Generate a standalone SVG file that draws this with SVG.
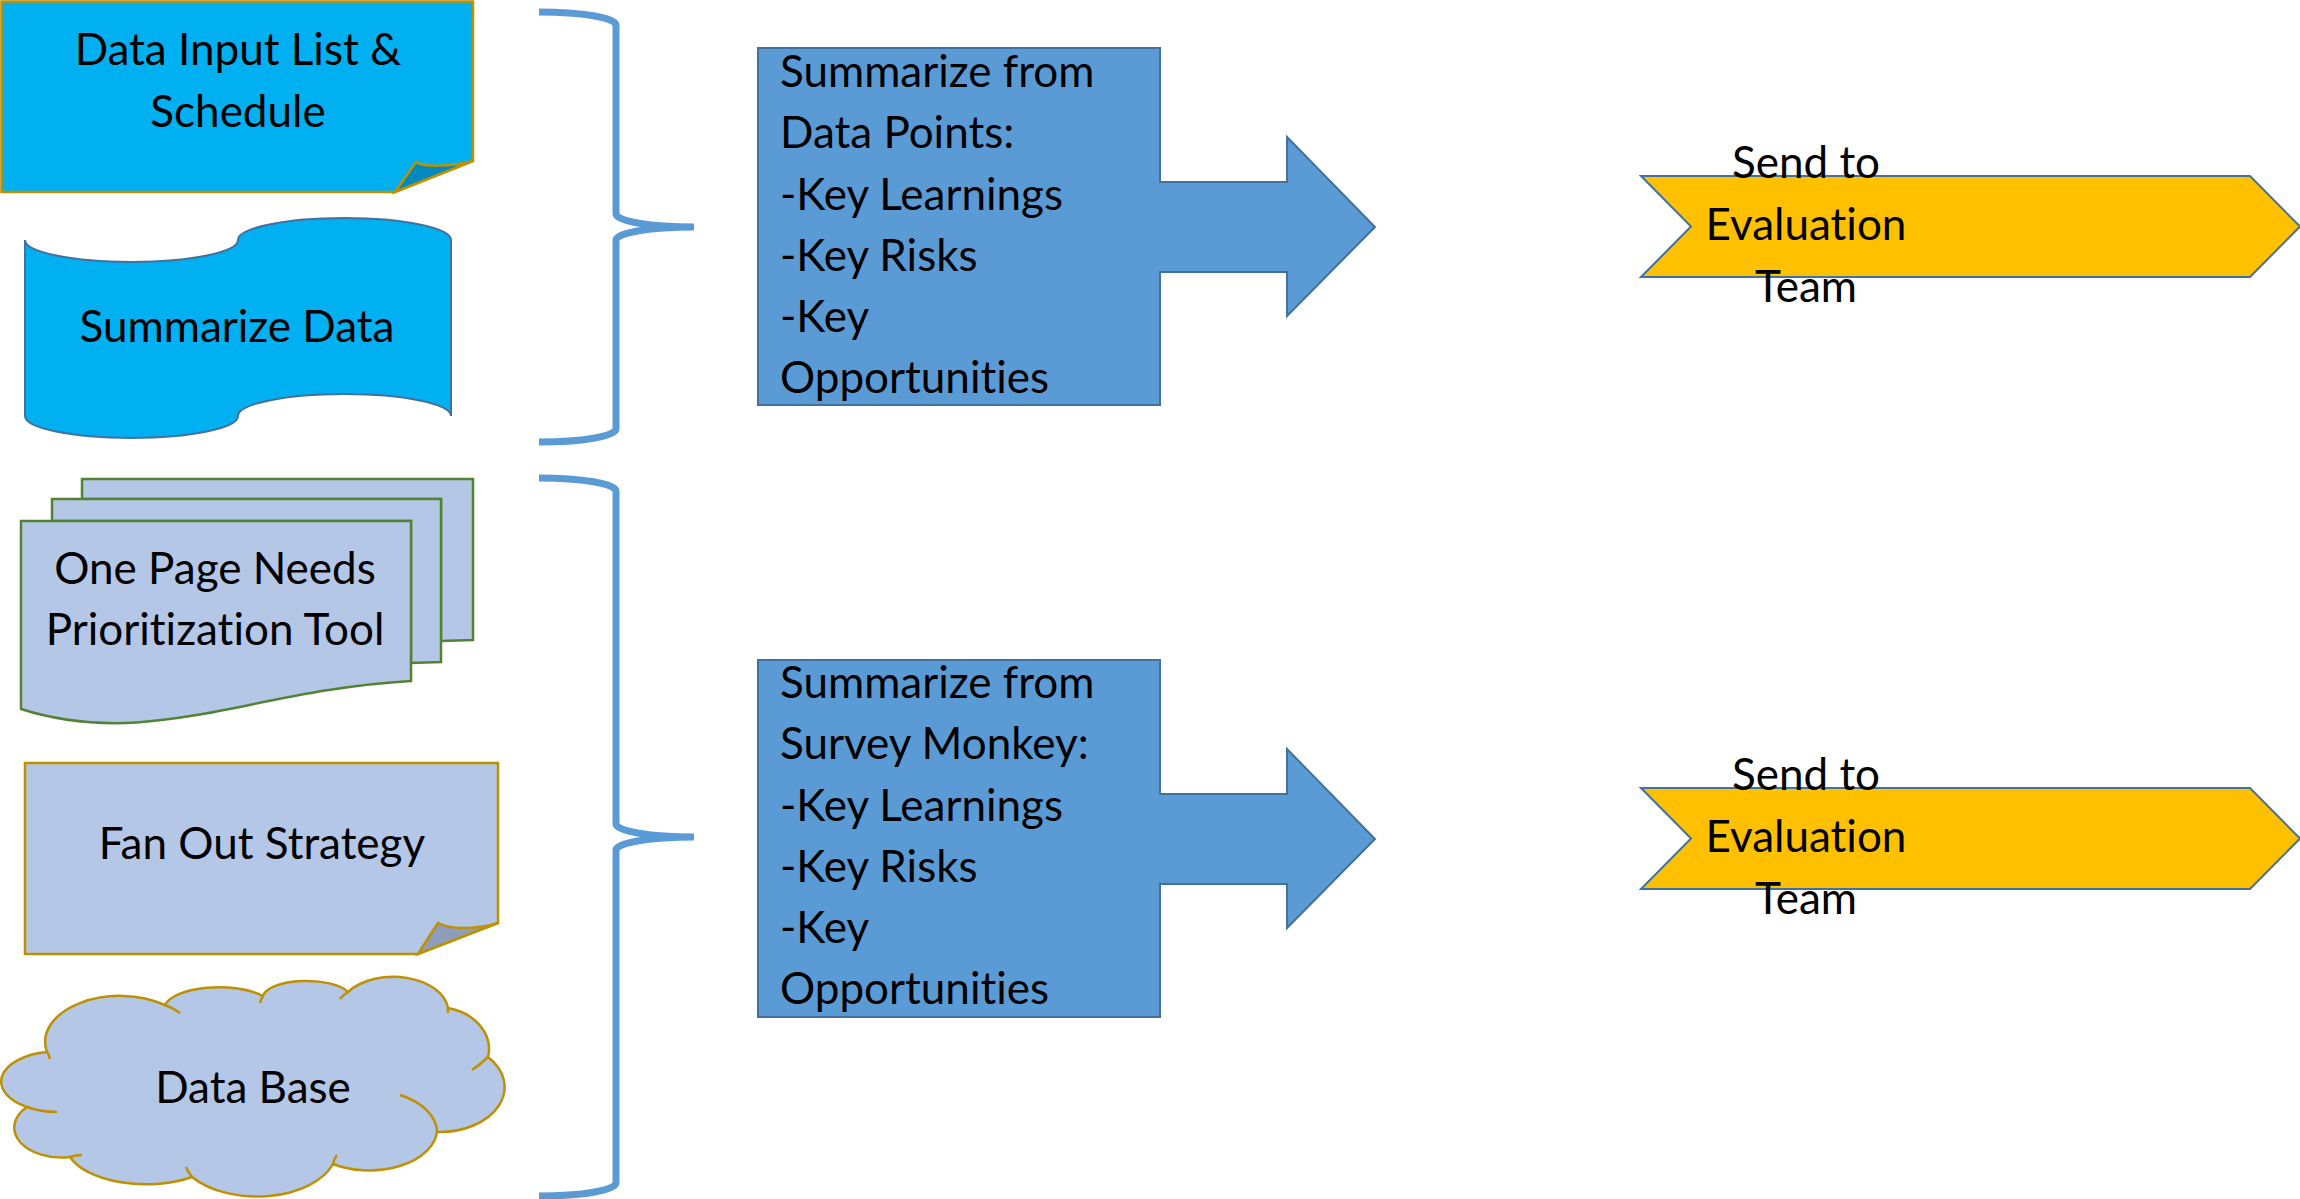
<svg xmlns="http://www.w3.org/2000/svg" width="2300" height="1199" viewBox="0 0 2300 1199">
<style>
text{font-family:Lato,"Liberation Sans",sans-serif;font-size:44px;fill:#000;font-variant-ligatures:none;font-feature-settings:"liga" 0}
.c{text-anchor:middle}
.gold{stroke:#BF9000;stroke-width:2.5;stroke-linejoin:miter}
.blueline{stroke:#41719C;stroke-width:2}
.brace{fill:none;stroke:#5B9BD5;stroke-width:7}
.lb{fill:#B4C7E7}
.cy{fill:#00B0F0}
.call{fill:#5B9BD5;stroke:#41719C;stroke-width:2}
.chev{fill:#FFC000;stroke:#41719C;stroke-width:2}
</style>
<rect width="2300" height="1199" fill="#fff"/>
<g id="data-input">
<path class="cy gold" d="M1.5,1.5 H473 V161 L395,192 H1.5 Z"/>
<path class="gold" fill="#0089BD" d="M395,192 L416,162 C422,167 450,167 473,161 Z"/>
<text class="c" x="238" y="65">Data Input List &amp;</text>
<text class="c" x="238" y="127">Schedule</text>
</g>
<g id="summarize-data">
<path class="cy blueline" d="M25,240 A106.5,22 0 0 0 238,240 A106.5,22 0 0 1 451,240 L451,416 A106.5,22 0 0 0 238,416 A106.5,22 0 0 1 25,416 Z"/>
<text class="c" x="237" y="342">Summarize Data</text>
</g>
<g id="one-page-tool">
<path class="lb" stroke="#548235" stroke-width="2.5" d="M82,499 V479 H473 V640 L441,641 V499 Z"/>
<path class="lb" stroke="#548235" stroke-width="2.5" d="M52,521 V499 H441 V662 L411,663 V521 Z"/>
<path class="lb" stroke="#548235" stroke-width="2.5" d="M21,521 H411 V681 C250,690 150,750 21,709 Z"/>
<text class="c" x="215" y="584">One Page Needs</text>
<text class="c" x="215" y="645">Prioritization Tool</text>
</g>
<g id="fan-out">
<path class="lb gold" d="M25,763 H498 V923 L418,954 H25 Z"/>
<path class="gold" fill="#8E9EBA" d="M418,954 L438,923 C450,930 480,929 498,923 Z"/>
<text class="c" x="262" y="859">Fan Out Strategy</text>
</g>
<g id="data-base">
<path class="lb gold" d="M47,1052 A75,46 0 0 1 165,1005 A55,22 0 0 1 263,996 A44,17 0 0 1 348,992 A55,35 0 0 1 448,1008 A53,42 0 0 1 488,1057 A65,45 0 0 1 437,1132 A68,42 0 0 1 333,1164 A80,47 0 0 1 192,1177 A80,40 0 0 1 70,1157 A47,30 0 0 1 27,1107 A55,30 0 0 1 47,1052 Z"/>
<path fill="none" class="gold" d="M47,1052 Q49,1055 50,1059 M165,1005 Q173,1008 180,1013 M263,996 Q261,999 260,1003 M348,992 Q343,995 340,999 M448,1008 L448,1013 M488,1057 Q481,1064 472,1070 M400,1095 A68,42 0 0 1 437,1132 M333,1164 Q334,1159 337,1155 M192,1177 Q188,1172 186,1167 M70,1157 Q76,1155 82,1155 M27,1107 Q40,1112 57,1112"/>
<text class="c" x="253" y="1103">Data Base</text>
</g>
<g id="summary-data-points">
<path class="call" d="M758,48 H1160 V182 H1287 V137 L1375,227 L1287,316 V272 H1160 V405 H758 Z"/>
<text x="780" y="87">Summarize from</text>
<text x="780" y="148">Data Points:</text>
<text x="780" y="210">-Key Learnings</text>
<text x="780" y="271">-Key Risks</text>
<text x="780" y="332">-Key</text>
<text x="780" y="393">Opportunities</text>
</g>
<g id="summary-survey">
<path class="call" d="M758,660 H1160 V794 H1287 V749 L1375,839 L1287,928 V884 H1160 V1017 H758 Z"/>
<text x="780" y="698">Summarize from</text>
<text x="780" y="759">Survey Monkey:</text>
<text x="780" y="821">-Key Learnings</text>
<text x="780" y="882">-Key Risks</text>
<text x="780" y="943">-Key</text>
<text x="780" y="1004">Opportunities</text>
</g>
<g id="send-eval-1">
<path class="chev" d="M1641,176 H2250 L2300,226.5 L2250,277 H1641 L1691,226.5 Z"/>
<text class="c" x="1806" y="178">Send to</text>
<text class="c" x="1806" y="240">Evaluation</text>
<text class="c" x="1806" y="302">Team</text>
</g>
<g id="send-eval-2">
<path class="chev" d="M1641,788 H2250 L2300,838.5 L2250,889 H1641 L1691,838.5 Z"/>
<text class="c" x="1806" y="790">Send to</text>
<text class="c" x="1806" y="852">Evaluation</text>
<text class="c" x="1806" y="914">Team</text>
</g>
<g id="connectors">
<path class="brace" d="M539,12 A77,13 0 0 1 616,25 V214 A78,13 0 0 0 694,227 A78,13 0 0 0 616,240 V429 A77,13 0 0 1 539,442"/>
<path class="brace" d="M539,478 A77,13 0 0 1 616,491 V824 A78,13 0 0 0 694,837 A78,13 0 0 0 616,850 V1183 A77,13 0 0 1 539,1196"/>
</g>
</svg>
